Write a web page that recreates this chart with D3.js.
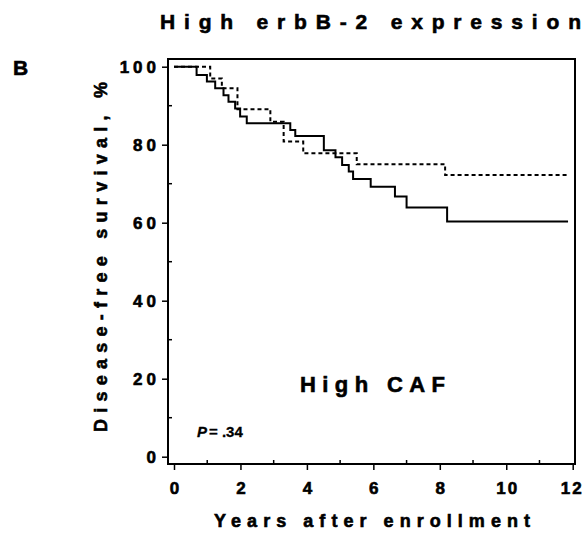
<!DOCTYPE html>
<html>
<head>
<meta charset="utf-8">
<script src="https://cdn.jsdelivr.net/npm/d3@7"></script>
<style>
  body { margin: 0; background: #fff; }
  text { font-family: "Liberation Sans", Arial, sans-serif; font-weight: bold; fill: #000; stroke: #000; stroke-width: 0.6px; }
</style>
</head>
<body>
<svg id="chart" width="587" height="544"></svg>
<script>
// high CAF arm, solid line (years, % disease-free)
const solidTimes = [0, 0.68, 0.99, 1.24, 1.49, 1.64, 1.84, 1.99, 2.19, 3.5, 3.65, 4.51, 4.86, 5.06, 5.26, 5.39, 5.92, 6.65, 7.0, 8.22];
const solidSurv  = [100, 97.9, 96.2, 94.5, 92.7, 91.0, 89.3, 87.2, 85.5, 83.8, 82.2, 78.6, 76.8, 74.8, 73.1, 71.2, 69.2, 66.7, 63.9, 60.3];
const solidEnd = 11.86;

// dashed line
const dashedTimes = [0, 1.09, 1.44, 1.91, 2.9, 3.3, 3.89, 5.5, 8.16];
const dashedSurv  = [100, 97.0, 94.5, 89.1, 85.9, 80.8, 77.8, 75.0, 72.2];
const dashedEnd = 11.86;

const xTicks = [0, 2, 4, 6, 8, 10, 12];
const yTicks = [0, 20, 40, 60, 80, 100];
const xMinor = [1, 3, 5, 7, 9, 11];
const yMinor = [10, 30, 50, 70, 90];

const frame = {left: 168, top: 59, right: 575, bottom: 464};

const svg = d3.select('#chart');
const x = d3.scaleLinear().domain([0, 12]).range([174, 572.7]);
const y = d3.scaleLinear().domain([0, 100]).range([456.7, 66.7]);

// frame
svg.append('rect')
  .attr('x', frame.left).attr('y', frame.top)
  .attr('width', frame.right - frame.left)
  .attr('height', frame.bottom - frame.top)
  .attr('fill', 'none').attr('stroke', '#000').attr('stroke-width', 2);

// y axis
const yAxis = svg.append('g')
  .attr('transform', `translate(${frame.left},0)`)
  .call(d3.axisLeft(y).tickValues(yTicks).tickSize(6).tickPadding(6).tickFormat(d3.format('d')));
yAxis.select('.domain').remove();
yAxis.selectAll('line').attr('stroke-width', 1.5);
yAxis.selectAll('text')
  .attr('font-size', 17).style('letter-spacing', '4px')
  .attr('dx', 4)
  .attr('font-family', null);

svg.append('g').selectAll('line')
  .data(yMinor).join('line')
  .attr('x1', frame.left).attr('x2', frame.left + 4)
  .attr('y1', d => y(d)).attr('y2', d => y(d))
  .attr('stroke', '#000').attr('stroke-width', 1.5);

// x axis
const xAxis = svg.append('g')
  .attr('transform', `translate(0,${frame.bottom})`)
  .call(d3.axisBottom(x).tickValues(xTicks).tickSize(6).tickPadding(12).tickFormat(d3.format('d')));
xAxis.select('.domain').remove();
xAxis.selectAll('line').attr('stroke-width', 1.5);
xAxis.selectAll('text')
  .attr('font-size', 17).style('letter-spacing', '2px')
  .attr('dx', 1)
  .attr('font-family', null);
// last label sits at the right edge, pull it in a little
xAxis.selectAll('.tick:last-of-type text').attr('dx', -1);

svg.append('g').selectAll('line')
  .data(xMinor).join('line')
  .attr('x1', d => x(d)).attr('x2', d => x(d))
  .attr('y1', frame.bottom).attr('y2', frame.bottom - 4)
  .attr('stroke', '#000').attr('stroke-width', 1.5);

// curves
function steps(times, surv, end) {
  const pts = times.map((t, i) => [t, surv[i]]);
  pts.push([end, surv[surv.length - 1]]);
  return pts;
}
const line = d3.line()
  .x(d => x(d[0]))
  .y(d => y(d[1]))
  .curve(d3.curveStepAfter);

svg.append('path')
  .datum(steps(solidTimes, solidSurv, solidEnd))
  .attr('d', line)
  .attr('fill', 'none').attr('stroke', '#000').attr('stroke-width', 2);

svg.append('path')
  .datum(steps(dashedTimes, dashedSurv, dashedEnd))
  .attr('d', line)
  .attr('fill', 'none').attr('stroke', '#000').attr('stroke-width', 2)
  .attr('stroke-dasharray', '4,3');

// texts
svg.append('text')
  .attr('x', 160).attr('y', 29)
  .attr('font-size', 21)
  .attr('textLength', 421).attr('lengthAdjust', 'spacing')
  .text('High erbB-2 expression');

svg.append('text')
  .attr('x', 13).attr('y', 75)
  .attr('font-size', 21)
  .text('B');

svg.append('text')
  .attr('transform', 'translate(107,432) rotate(-90)')
  .attr('font-size', 18)
  .attr('textLength', 350).attr('lengthAdjust', 'spacing')
  .text('Disease-free survival, %');

svg.append('text')
  .attr('x', 214).attr('y', 527)
  .attr('font-size', 18)
  .attr('textLength', 316).attr('lengthAdjust', 'spacing')
  .text('Years after enrollment');

svg.append('text')
  .attr('x', 300).attr('y', 392)
  .attr('font-size', 22)
  .attr('textLength', 145).attr('lengthAdjust', 'spacing')
  .text('High CAF');

const p = svg.append('text')
  .attr('x', 197).attr('y', 437)
  .attr('font-size', 15)
  .style('stroke-width', '0.3px');
p.append('tspan').attr('font-style', 'italic').text('P');
p.append('tspan').attr('dx', 2).text('= .34');
</script>
</body>
</html>
